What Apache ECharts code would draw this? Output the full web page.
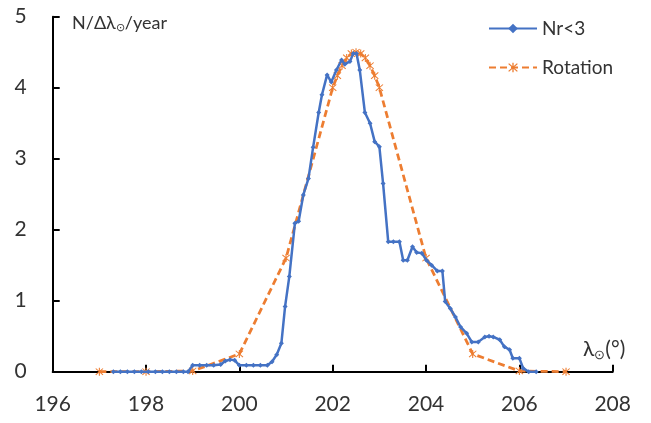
<!DOCTYPE html>
<html><head><meta charset="utf-8">
<script src="https://cdn.jsdelivr.net/npm/echarts@6/dist/echarts.min.js"></script>
<style>html,body{margin:0;padding:0;background:#fff}#c{width:651px;height:423px}</style>
</head><body><div id="c"></div>
<script>
// Nr<3 series (solar longitude, rate)
const nrX = [197.3,197.45,197.6,197.75,197.9,198.05,198.2,198.35,198.5,198.65,198.8,198.9,
  199.0,199.15,199.3,199.45,199.6,199.7,199.8,199.9,200.0,200.15,200.3,200.45,200.6,200.7,200.8,200.9,200.98,201.07,
  201.19,201.27,201.37,201.48,201.58,201.7,201.77,201.88,201.97,202.08,202.19,202.26,202.37,202.44,202.51,202.58,
  202.69,202.8,202.9,203.0,203.08,203.19,203.3,203.43,203.51,203.6,203.71,203.8,203.91,204.01,204.12,204.24,204.35,
  204.41,204.52,204.63,204.74,204.87,204.98,205.12,205.26,205.35,205.44,205.58,205.68,205.79,205.86,206.0,206.08,206.2,206.36];
const nrY = [0,0,0,0,0,0,0,0,0,0,0,0,
  0.09,0.09,0.09,0.09,0.1,0.15,0.17,0.16,0.09,0.09,0.09,0.09,0.09,0.14,0.24,0.4,0.92,1.34,
  2.09,2.12,2.49,2.72,3.16,3.65,3.9,4.18,4.08,4.25,4.39,4.33,4.37,4.48,4.48,4.25,
  3.65,3.5,3.24,3.17,2.65,1.83,1.83,1.83,1.57,1.57,1.76,1.68,1.67,1.57,1.5,1.42,1.42,
  0.99,0.89,0.77,0.63,0.54,0.42,0.42,0.49,0.5,0.49,0.45,0.35,0.31,0.19,0.19,0.05,0,0];
// Rotation series
const rotX = [197,198,199,200,201,202,202.1,202.2,202.3,202.4,202.5,202.6,202.7,202.8,202.9,203,204,205,206,207];
const rotY = [0,0,0.01,0.25,1.6,4.0,4.17,4.31,4.42,4.48,4.5,4.48,4.42,4.31,4.17,4.0,1.6,0.25,0.01,0];
const xTicks = [196,198,200,202,204,206,208];
const yTicks = [0,1,2,3,4,5];
const seriesNames = ['Nr<3','Rotation'];

const font = 'Lato, "Open Sans", "Liberation Sans", sans-serif';
const txt = '#333333';
const zip = (a,b)=>a.map((v,i)=>[v,b[i]]);
const asterisk = 'path://M4.4,0 L5.6,0 L5.6,10 L4.4,10 Z M0.6,1.4 L1.4,0.6 L9.4,8.6 L8.6,9.4 Z M8.6,0.6 L9.4,1.4 L1.4,9.4 L0.6,8.6 Z';

const chart = echarts.init(document.getElementById('c'), null, {renderer:'canvas'});
chart.setOption({
  animation:false,
  backgroundColor:'#fff',
  textStyle:{fontFamily:font},
  grid:{left:52.7,right:38.3,top:16.7,bottom:51.3,containLabel:false},
  xAxis:{type:'value',min:xTicks[0],max:xTicks[xTicks.length-1],interval:2,
    axisLine:{lineStyle:{color:'#000',width:2}},
    axisTick:{inside:true,length:7,lineStyle:{color:'#000',width:2}},
    splitLine:{show:false},
    axisLabel:{fontSize:21,color:txt,margin:22,fontFamily:font}},
  yAxis:{type:'value',min:yTicks[0],max:yTicks[yTicks.length-1],interval:1,
    axisLine:{show:true,lineStyle:{color:'#000',width:2}},
    axisTick:{show:true,inside:true,length:7,lineStyle:{color:'#000',width:2}},
    splitLine:{show:false},
    axisLabel:{fontSize:21,color:txt,margin:26,fontFamily:font}},
  legend:{orient:'vertical',left:483,top:14,itemWidth:48,itemHeight:12,itemGap:20,
    textStyle:{fontSize:19,color:txt,fontFamily:font},
    data:seriesNames},
  graphic:[
    {type:'text',left:72,top:14,style:{
      text:'{a|N/Δλ}{s|⊙}{a|/year}',
      rich:{a:{fontSize:18,fill:txt,fontFamily:font},s:{fontSize:11,fill:txt,fontFamily:font,padding:[9,0,0,0]}}}},
    {type:'text',left:583,top:339,style:{
      text:'{a|λ}{s|⊙}{a|(°)}',
      rich:{a:{fontSize:21,fill:txt,fontFamily:font},s:{fontSize:13,fill:txt,fontFamily:font,padding:[10,0,0,0]}}}}
  ],
  series:[
    {name:seriesNames[0],type:'line',data:zip(nrX,nrY),
      symbol:'diamond',symbolSize:5,showSymbol:true,
      itemStyle:{color:'#4472C4'},lineStyle:{color:'#4472C4',width:2.5},z:3},
    {name:seriesNames[1],type:'line',data:zip(rotX,rotY),
      symbol:asterisk,symbolSize:8,showSymbol:true,
      itemStyle:{color:'#ED7D31'},lineStyle:{color:'#ED7D31',width:2.75,type:[7,4]},z:2}
  ]
});
</script></body></html>
